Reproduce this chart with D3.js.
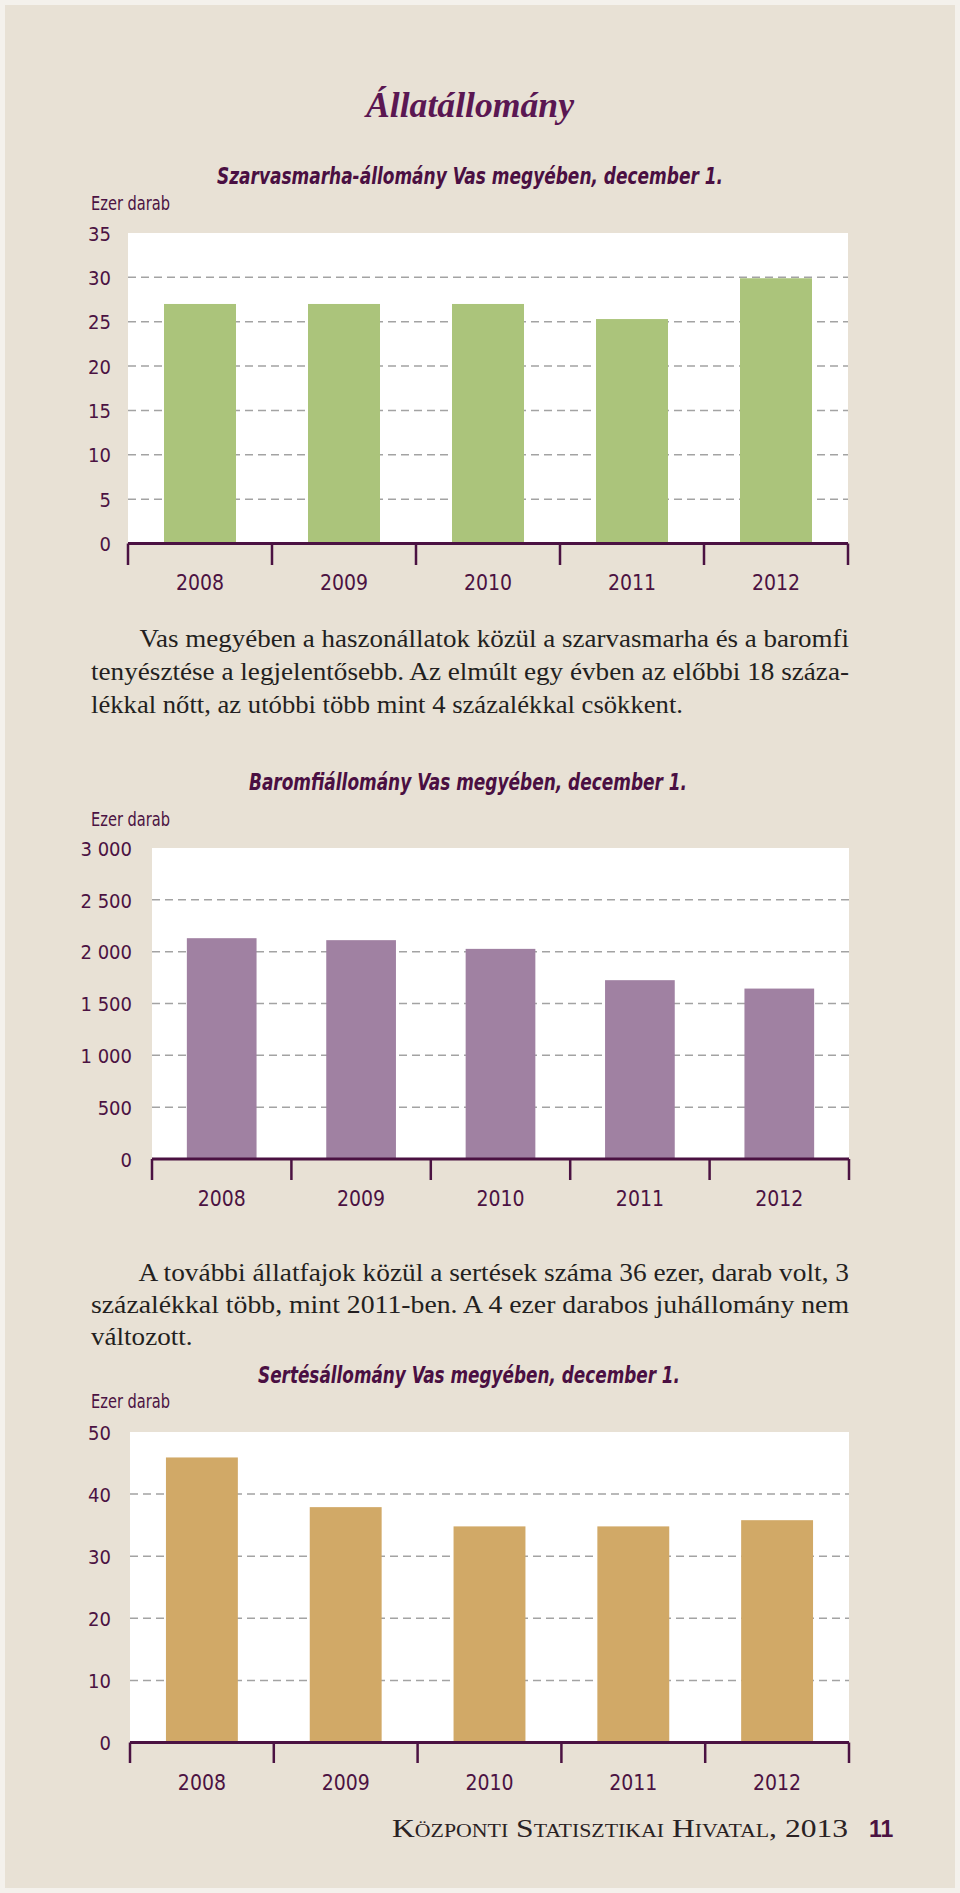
<!DOCTYPE html>
<html><head><meta charset="utf-8">
<script src="https://cdn.jsdelivr.net/npm/d3@7"></script>
<style>
body{margin:0;background:#f4f1ec}
svg{display:block}
</style>
</head><body>
<svg id="c" width="960" height="1893"></svg>
<script>
// ---------- DATA ----------
const years = ["2008","2009","2010","2011","2012"];
const cattleValues  = [27.0, 27.0, 27.0, 25.3, 29.9];
const poultryValues = [2130, 2111, 2027, 1725, 1644];
const pigValues     = [45.9, 37.9, 34.8, 34.8, 35.8];
const cattleTicks  = [0,5,10,15,20,25,30,35];
const cattleTickLabels = ["0","5","10","15","20","25","30","35"];
const poultryTicks = [0,500,1000,1500,2000,2500,3000];
const poultryTickLabels = ["0","500","1 000","1 500","2 000","2 500","3 000"];
const pigTicks = [0,10,20,30,40,50];
const pigTickLabels = ["0","10","20","30","40","50"];
const pageTitle = "Állatállomány";
const chartTitles = [
  "Szarvasmarha-állomány Vas megyében, december 1.",
  "Baromfiállomány Vas megyében, december 1.",
  "Sertésállomány Vas megyében, december 1."
];
const unitLabel = "Ezer darab";
const para1 = [
  "Vas megyében a haszonállatok közül a szarvasmarha és a baromfi",
  "tenyésztése a legjelentősebb. Az elmúlt egy évben az előbbi 18 száza-",
  "lékkal nőtt, az utóbbi több mint 4 százalékkal csökkent."
];
const para2 = [
  "A további állatfajok közül a sertések száma 36 ezer, darab volt, 3",
  "százalékkal több, mint 2011-ben. A 4 ezer darabos juhállomány nem",
  "változott."
];
const footerText = "Központi Statisztikai Hivatal, 2013";
const pageNumber = "11";

// ---------- STYLE ----------
const SANS = "'Liberation Sans Narrow','DejaVu Sans Condensed','Roboto Condensed','Liberation Sans',sans-serif";
const SERIF = "'Liberation Serif','DejaVu Serif',serif";
const PURPLE = "#4b1242";
const svg = d3.select("#c");

svg.append("rect").attr("x",0).attr("y",0).attr("width",960).attr("height",1893).attr("fill","#f4f1ec");
svg.append("rect").attr("x",5).attr("y",5).attr("width",950).attr("height",1883).attr("fill","#e8e1d5");

function fitText(t, w, adjust){
  t.attr("textLength", w).attr("lengthAdjust", adjust || "spacingAndGlyphs");
  return t;
}

// Title
fitText(svg.append("text").attr("x",366).attr("y",117)
  .attr("font-family",SERIF).attr("font-style","italic").attr("font-weight","bold")
  .attr("font-size",35).attr("fill","#5a1752").text(pageTitle), 208);

// ---------- CHARTS ----------
const charts = [
  {values:cattleValues, ticks:cattleTicks, labels:cattleTickLabels, max:35, color:"#abc47b",
   left:128, right:848, top:233, zero:543.5, labelRight:111, yearBase:590, tickBottom:565,
   unitY:210, titleX:217, titleW:506, titleY:184, title:chartTitles[0]},
  {values:poultryValues, ticks:poultryTicks, labels:poultryTickLabels, max:3000, color:"#a081a2",
   left:152, right:849, top:848, zero:1159, labelRight:132, yearBase:1206, tickBottom:1180,
   unitY:826, titleX:249, titleW:438, titleY:790, title:chartTitles[1]},
  {values:pigValues, ticks:pigTicks, labels:pigTickLabels, max:50, color:"#d1a967",
   left:130, right:849, top:1432, zero:1742.5, labelRight:111, yearBase:1790, tickBottom:1763,
   unitY:1408, titleX:258, titleW:422, titleY:1383, title:chartTitles[2]}
];

charts.forEach(c => {
  const g = svg.append("g");
  // subtitle
  fitText(g.append("text").attr("x",c.titleX).attr("y",c.titleY)
    .attr("font-family",SANS).attr("font-style","italic").attr("font-weight","bold")
    .attr("font-size",23).attr("fill","#4a0f42").text(c.title), c.titleW);
  // unit
  fitText(g.append("text").attr("x",91).attr("y",c.unitY)
    .attr("font-family",SANS).attr("font-size",20).attr("fill",PURPLE).text(unitLabel), 79);

  const x = d3.scaleBand().domain(years).range([c.left, c.right]).paddingInner(0.5).paddingOuter(0.25);
  const y = d3.scaleLinear().domain([0, c.max]).range([c.zero, c.top]);

  // plot background
  g.append("rect").attr("x",c.left).attr("y",y(c.max)).attr("width",c.right-c.left)
    .attr("height",y(0)-y(c.max)).attr("fill","#ffffff");

  // gridlines
  g.selectAll("line.grid").data(c.ticks.filter(t => t>0 && t<c.max)).join("line")
    .attr("x1",c.left).attr("x2",c.right).attr("y1",d=>y(d)).attr("y2",d=>y(d))
    .attr("stroke","#a3a3a3").attr("stroke-width",1.5).attr("stroke-dasharray","8,5");

  // bars
  g.selectAll("rect.bar").data(c.values).join("rect")
    .attr("x",(d,i)=>x(years[i])).attr("width",x.bandwidth())
    .attr("y",d=>y(d)).attr("height",d=>y(0)-y(d)).attr("fill",c.color);

  // y axis labels
  const ya = g.append("g").attr("transform",`translate(${c.labelRight},0)`)
    .call(d3.axisLeft(y).tickValues(c.ticks).tickSize(0).tickPadding(0)
      .tickFormat((d,i)=>c.labels[i]));
  ya.select(".domain").remove();
  ya.selectAll("text").attr("font-family",SANS).attr("font-size",20).attr("fill",PURPLE).attr("dy","0.36em");

  // x axis: line + boundary ticks
  const half = (x.step()-x.bandwidth())/2;
  const bounds = years.map(d=>x(d)-half).concat([x(years[years.length-1])+x.bandwidth()+half]);
  g.append("line").attr("x1",c.left).attr("x2",c.right).attr("y1",y(0)).attr("y2",y(0))
    .attr("stroke",PURPLE).attr("stroke-width",3);
  g.selectAll("line.tk").data(bounds).join("line")
    .attr("x1",d=>d).attr("x2",d=>d).attr("y1",y(0)).attr("y2",c.tickBottom)
    .attr("stroke",PURPLE).attr("stroke-width",2.5);
  const xa = g.append("g").attr("transform",`translate(0,${c.yearBase})`)
    .call(d3.axisBottom(x).tickSize(0).tickPadding(0));
  xa.select(".domain").remove();
  xa.selectAll("text").attr("font-family",SANS).attr("font-size",21).attr("fill",PURPLE).attr("dy","0");
});

// ---------- BODY TEXT ----------
function paragraph(lines, layout){
  lines.forEach((ln,i)=>{
    const L = layout[i];
    const t = svg.append("text").attr("x",L.x).attr("y",L.y)
      .attr("font-family",SERIF).attr("font-size",25).attr("fill","#231f20").text(ln);
    fitText(t, L.w, "spacingAndGlyphs");
  });
}
paragraph(para1, [
  {x:139.5, y:647, w:709.5},
  {x:91, y:680, w:758},
  {x:91, y:713, w:592}
]);
paragraph(para2, [
  {x:138.5, y:1281, w:710.5},
  {x:91, y:1313, w:758},
  {x:91, y:1345, w:101.5}
]);

// ---------- FOOTER ----------
fitText(svg.append("text").attr("x",392).attr("y",1837)
  .attr("font-family",SERIF).attr("font-size",26).attr("font-variant","small-caps")
  .attr("fill","#2a2223").text(footerText), 456);
svg.append("text").attr("x",869).attr("y",1837)
  .attr("font-family","'Liberation Sans','DejaVu Sans',sans-serif").attr("font-weight","bold")
  .attr("font-size",23).attr("fill",PURPLE).text(pageNumber);
</script>
</body></html>
